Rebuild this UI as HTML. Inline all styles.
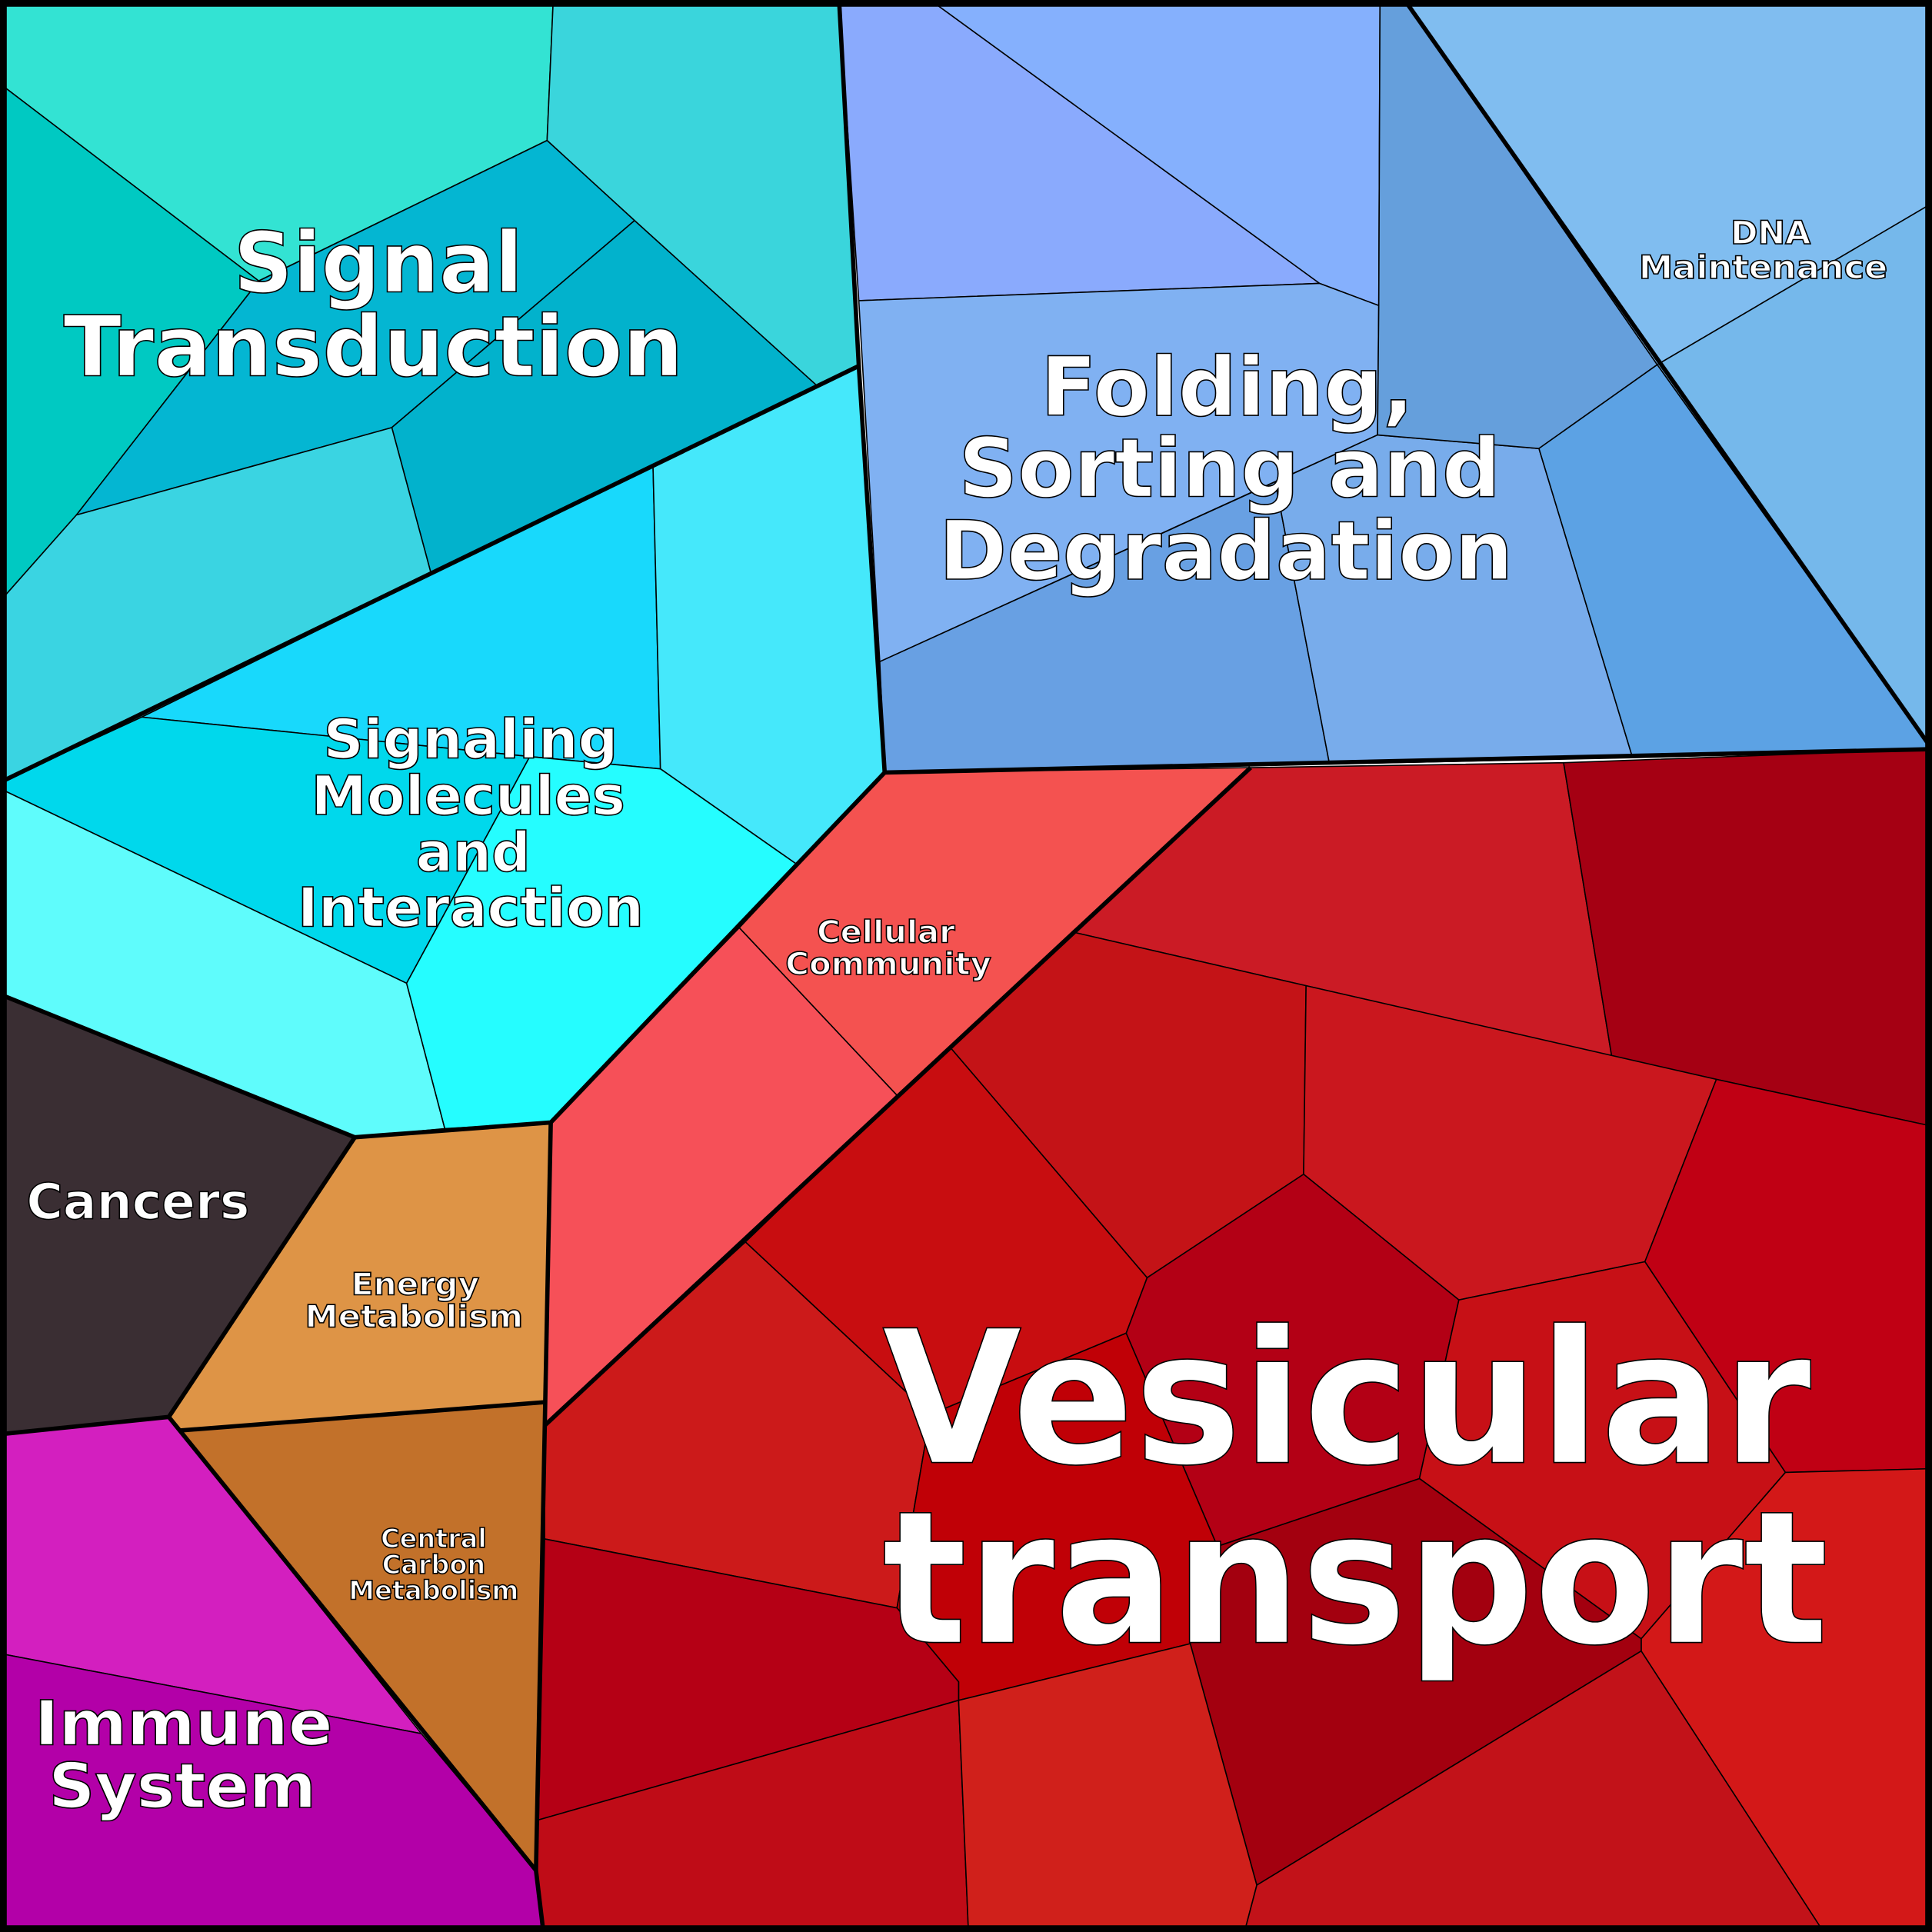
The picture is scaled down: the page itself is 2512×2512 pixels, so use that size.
<!DOCTYPE html>
<html><head><meta charset="utf-8"><style>html,body{margin:0;padding:0;background:#fff}svg{display:block}</style></head><body>
<svg width="2512" height="2512" viewBox="0 0 1568 1568" xmlns="http://www.w3.org/2000/svg">
<g stroke="#000" stroke-width="1" stroke-linejoin="round">
<polygon fill="#33e3d3" points="0,0 449,0 444,114 210,228 0,68"/>
<polygon fill="#00c9c2" points="0,68 210,228 62,418 0,488"/>
<polygon fill="#3ad5dc" points="449,0 681,0 697,297 663,313 515,179 444,114"/>
<polygon fill="#04b6d2" points="444,114 515,179 318,347 62,418 210,228"/>
<polygon fill="#02b2cc" points="515,179 663,313 350,466 318,347"/>
<polygon fill="#3ad4e2" points="0,488 62,418 318,347 350,466 115,582 0,635"/>
<polygon fill="#18d9fc" points="350,466 530,379 536,624 430,614 115,582"/>
<polygon fill="#45e8fb" points="530,379 697,297 718,627 646,701 536,624"/>
<polygon fill="#00d8ec" points="0,635 115,582 430,614 330,798 0,640"/>
<polygon fill="#5ffcfc" points="0,640 330,798 361,916 288,923 0,807"/>
<polygon fill="#25fdff" points="430,614 536,624 646,701 447,911 361,916 330,798"/>
<polygon fill="#3a2e33" points="0,807 288,923 137,1150 0,1164"/>
<polygon fill="#de9446" points="288,923 447,911 442,1138 146,1161 137,1150"/>
<polygon fill="#c2712a" points="146,1161 442,1138 435,1518"/>
<polygon fill="#d31fbf" points="0,1164 137,1150 342,1407 0,1342"/>
<polygon fill="#b300a8" points="0,1342 342,1407 435,1518 441,1568 0,1568"/>
<polygon fill="#8aaafd" points="681,0 755,0 1071,230 697,244"/>
<polygon fill="#85b0fd" points="755,0 1120,0 1119,248 1071,230"/>
<polygon fill="#80b1f2" points="697,244 1071,230 1119,248 1118,353 714,537"/>
<polygon fill="#68a0e3" points="714,537 1035,391 1079,620 718,627"/>
<polygon fill="#78aceb" points="1035,391 1118,353 1249,364 1325,615 1079,620"/>
<polygon fill="#659fdc" points="1120,0 1140,0 1345,296 1249,364 1118,353 1119,248"/>
<polygon fill="#80bdf0" points="1140,0 1568,0 1568,165 1345,296"/>
<polygon fill="#75b8eb" points="1345,296 1568,165 1568,608"/>
<polygon fill="#5ca2e4" points="1249,364 1345,296 1568,608 1325,615"/>
<polygon fill="#f45250" points="718,627 1015,623 873,757 728,889 600,753"/>
<polygon fill="#f65058" points="600,753 728,889 442,1157 447,911"/>
<polygon fill="#cb1b25" points="1015,623 1269,619 1308,857 1060,800 873,757"/>
<polygon fill="#a50013" points="1269,619 1568,608 1568,914 1393,876 1308,857"/>
<polygon fill="#c41317" points="873,757 1060,800 1058,953 931,1037 772,851"/>
<polygon fill="#ca171e" points="1060,800 1393,876 1335,1024 1184,1055 1058,953"/>
<polygon fill="#c00014" points="1393,876 1568,914 1568,1192 1449,1195 1335,1024"/>
<polygon fill="#c80d10" points="728,889 772,851 931,1037 914,1082 755,1148 605,1008"/>
<polygon fill="#cc1a1a" points="605,1008 755,1148 728,1305 442,1249 442,1157"/>
<polygon fill="#b30015" points="931,1037 1058,953 1184,1055 1152,1200 988,1255 914,1082"/>
<polygon fill="#c00006" points="914,1082 988,1255 966,1334 778,1380 778,1365 728,1305 755,1148"/>
<polygon fill="#c71016" points="1184,1055 1335,1024 1449,1195 1332,1330 1152,1200"/>
<polygon fill="#d31818" points="1449,1195 1568,1192 1568,1568 1480,1568 1332,1340 1332,1330"/>
<polygon fill="#a3000f" points="988,1255 1152,1200 1332,1330 1332,1340 1020,1530 966,1334"/>
<polygon fill="#b50015" points="442,1249 728,1305 778,1365 778,1380 437,1477"/>
<polygon fill="#bf0c17" points="437,1477 778,1380 786,1568 441,1568 435,1518"/>
<polygon fill="#d0201b" points="778,1380 966,1334 1020,1530 1010,1568 786,1568"/>
<polygon fill="#c21219" points="1020,1530 1332,1340 1480,1568 1010,1568"/>
</g>
<g fill="none" stroke="#000" stroke-width="3.5" stroke-linejoin="round">
<path d="M681,0 L697,297 L0,635"/>
<path d="M697,297 L718,627 L447,911 L288,923 L0,807"/>
<path d="M288,923 L137,1150 L0,1164"/>
<path d="M137,1150 L435,1518 L441,1568"/>
<path d="M146,1161 L442,1138"/>
<path d="M447,911 L435,1518"/>
<path d="M718,627 L1568,608"/>
<path d="M1015,623 L442,1157"/>
<path d="M1140,0 L1568,608"/>
<rect x="2.5" y="2.5" width="1563" height="1563" stroke-width="6"/>
</g>
<g font-family="DejaVu Sans, Liberation Sans, sans-serif" font-weight="bold" fill="#fff" stroke="#000" stroke-width="1" text-anchor="middle">
<text x="307" y="237" font-size="68" textLength="235" lengthAdjust="spacingAndGlyphs">Signal</text>
<text x="303" y="305" font-size="68" textLength="503" lengthAdjust="spacingAndGlyphs">Transduction</text>
<text x="996" y="337" font-size="66" textLength="303" lengthAdjust="spacingAndGlyphs">Folding,</text>
<text x="998" y="403" font-size="66" textLength="440" lengthAdjust="spacingAndGlyphs">Sorting and</text>
<text x="995" y="470" font-size="66" textLength="466" lengthAdjust="spacingAndGlyphs">Degradation</text>
<text x="1437" y="198" font-size="26" textLength="65" lengthAdjust="spacingAndGlyphs">DNA</text>
<text x="1431" y="226" font-size="26" textLength="202" lengthAdjust="spacingAndGlyphs">Maintenance</text>
<text x="382" y="615" font-size="44" textLength="239" lengthAdjust="spacingAndGlyphs">Signaling</text>
<text x="380" y="661" font-size="44" textLength="255" lengthAdjust="spacingAndGlyphs">Molecules</text>
<text x="384" y="707" font-size="44" textLength="93" lengthAdjust="spacingAndGlyphs">and</text>
<text x="382" y="752" font-size="44" textLength="281" lengthAdjust="spacingAndGlyphs">Interaction</text>
<text x="719" y="765" font-size="25" textLength="112" lengthAdjust="spacingAndGlyphs">Cellular</text>
<text x="721" y="791" font-size="25" textLength="167" lengthAdjust="spacingAndGlyphs">Community</text>
<text x="112" y="989" font-size="40" textLength="181" lengthAdjust="spacingAndGlyphs">Cancers</text>
<text x="337" y="1051" font-size="25" textLength="104" lengthAdjust="spacingAndGlyphs">Energy</text>
<text x="336" y="1077" font-size="25" textLength="177" lengthAdjust="spacingAndGlyphs">Metabolism</text>
<text x="352" y="1256" font-size="21" textLength="86" lengthAdjust="spacingAndGlyphs">Central</text>
<text x="352" y="1277" font-size="21" textLength="84" lengthAdjust="spacingAndGlyphs">Carbon</text>
<text x="352" y="1298" font-size="21" textLength="138" lengthAdjust="spacingAndGlyphs">Metabolism</text>
<text x="149" y="1416" font-size="50" textLength="242" lengthAdjust="spacingAndGlyphs">Immune</text>
<text x="148" y="1467" font-size="50" textLength="217" lengthAdjust="spacingAndGlyphs">System</text>
<text x="1093" y="1187" font-size="150" textLength="754" lengthAdjust="spacingAndGlyphs">Vesicular</text>
<text x="1100" y="1333" font-size="150" textLength="768" lengthAdjust="spacingAndGlyphs">transport</text>
</g>
</svg>
</body></html>
